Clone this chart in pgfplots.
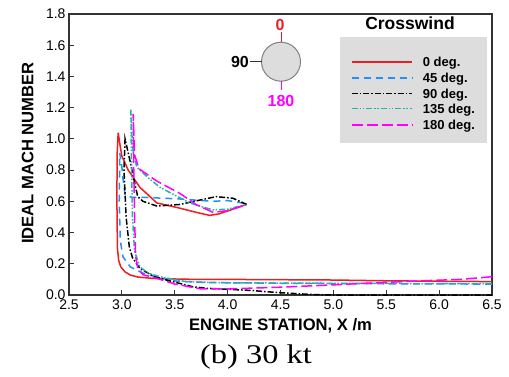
\documentclass[border=0pt]{standalone}
\usepackage{pgfplots}
\pgfplotsset{compat=1.18}
\usepackage{fontspec}
\setmainfont{Liberation Sans}
\newfontfamily\timesfont[FakeStretch=1.2]{Liberation Serif}
\definecolor{cred}{RGB}{235,30,35}
\definecolor{cblue}{RGB}{30,144,255}
\definecolor{ccyan}{RGB}{35,180,170}
\definecolor{cmag}{RGB}{255,0,255}
\definecolor{boxgray}{RGB}{221,221,221}
\tikzset{
  s0/.style={cred, line width=1.5pt},
  s45/.style={cblue, line width=1.5pt, dash pattern=on 7pt off 5pt},
  s90/.style={black, line width=1.5pt, dash pattern=on 6pt off 2pt on 1.5pt off 2pt},
  s135/.style={ccyan, line width=1.5pt, dash pattern=on 6pt off 2pt on 1.5pt off 1.5pt on 1.5pt off 2pt},
  s180/.style={cmag, line width=1.5pt, dash pattern=on 11pt off 4pt},
  lt/.style={anchor=base west, inner sep=0pt, font=\fontsize{13}{13}\bfseries\selectfont},
}
\begin{document}
\begin{tikzpicture}
\useasboundingbox (-69pt,-81pt) rectangle (440pt,295pt);
\begin{axis}[
  scale only axis, width=423pt, height=281pt,
  xmin=2.5, xmax=6.5, ymin=0, ymax=1.8,
  xtick={2.5,3,...,6.5}, ytick={0,0.2,...,1.8},
  tick pos=left, tick align=inside, major tick length=5pt,
  axis line style={line width=1.2pt, black!80},
  every tick/.style={line width=1pt, black!80},
  tick label style={font=\fontsize{14}{14}\selectfont},
  xticklabel style={yshift=-1.5pt},
  /pgf/number format/assume math mode=true,
  /pgf/number format/.cd, fixed, fixed zerofill, precision=1, /pgfplots/.cd,
  xlabel={\bfseries ENGINE STATION, X /m},
  ylabel={\bfseries IDEAL MACH NUMBER},
  every axis x label/.style={at={(axis description cs:0.5,-0.127)}, anchor=base, font=\fontsize{16.6}{16.6}\selectfont},
  every axis y label/.style={at={(axis description cs:-0.0844,0.505)}, rotate=90, anchor=base, font=\fontsize{16.6}{16.6}\selectfont},
]
\fill[boxgray] (axis description cs:0.641,0.541) rectangle (axis description cs:0.988,0.918);
% 0 deg
\addplot[s0] coordinates {
(6.5,0.086) (6.0,0.088) (5.5,0.091) (5.0,0.096) (4.0,0.1) (3.6,0.101) (3.3,0.106) (3.15,0.115) (3.08,0.128) (3.03,0.148) (2.99,0.18) (2.97,0.22) (2.958,0.3) (2.953,0.6) (2.955,0.9) (2.965,1.04)
(2.985,0.95) (3.0,0.89) (3.06,0.80) (3.17,0.69) (3.33,0.59) (3.55,0.556) (3.7,0.53) (3.83,0.51) (3.92,0.52) (4.05,0.55) (4.18,0.58)};
% 45 deg
\addplot[s45] coordinates {
(6.5,0.070) (5.5,0.072) (4.5,0.075) (3.8,0.08) (3.5,0.09) (3.33,0.115) (3.2,0.14) (3.08,0.18) (3.01,0.245) (2.985,0.35) (2.975,0.6) (2.98,0.91)
(3.0,0.82) (3.01,0.75) (3.03,0.64) (3.1,0.625) (3.23,0.625) (3.55,0.615) (3.86,0.60) (4.0,0.605) (4.18,0.585)};
% 90 deg
\addplot[s90] coordinates {
(6.5,0.0) (5.0,0.0) (4.8,0.003) (4.49,0.015) (4.2,0.03) (3.8,0.043) (3.67,0.053) (3.42,0.096) (3.3,0.12) (3.17,0.17) (3.1,0.24) (3.07,0.31) (3.04,0.5) (3.02,0.8) (3.03,1.0)
(3.08,0.85) (3.12,0.72) (3.15,0.63) (3.2,0.6) (3.33,0.57) (3.55,0.58) (3.75,0.61) (3.89,0.63) (4.05,0.62) (4.18,0.58)};
% 135 deg
\addplot[s135] coordinates {
(6.5,0.072) (5.0,0.075) (4.0,0.078) (3.61,0.085) (3.36,0.117) (3.25,0.14) (3.17,0.18) (3.12,0.28) (3.1,0.5) (3.09,0.9) (3.085,1.19)
(3.1,0.95) (3.14,0.82) (3.25,0.75) (3.36,0.69) (3.5,0.64) (3.64,0.59) (3.86,0.545) (4.0,0.55) (4.18,0.58)};
% 180 deg
\addplot[s180] coordinates {
(6.5,0.117) (6.2,0.1) (5.8,0.09) (5.3,0.075) (5.0,0.065) (4.5,0.05) (4.05,0.04) (3.74,0.04) (3.5,0.07) (3.33,0.107) (3.2,0.13) (3.15,0.17) (3.13,0.25) (3.12,0.5) (3.11,0.9) (3.107,1.16)
(3.12,0.9) (3.16,0.81) (3.33,0.73) (3.55,0.65) (3.7,0.58) (3.86,0.53) (4.0,0.54) (4.18,0.58)};
\end{axis}
% legend
\draw[cred, line width=1.6pt] (282.7pt,233.3pt) -- (343.3pt,233.3pt);
\draw[cblue, line width=1.6pt, dash pattern=on 7pt off 5pt] (282.7pt,217.3pt) -- (343.3pt,217.3pt);
\draw[s90] (282.7pt,201.7pt) -- (343.3pt,201.7pt);
\draw[s135] (282.7pt,186.7pt) -- (343.3pt,186.7pt);
\draw[s180] (282.7pt,170pt) -- (343.3pt,170pt);
\node[lt] at (353.7pt,228.6pt) {0 deg.};
\node[lt] at (353.7pt,212.6pt) {45 deg.};
\node[lt] at (353.7pt,197pt) {90 deg.};
\node[lt] at (353.7pt,182pt) {135 deg.};
\node[lt] at (353.7pt,165.3pt) {180 deg.};
% crosswind icon
\fill[boxgray] (212pt,233.3pt) circle (19.5pt);
\draw[gray, line width=1pt] (212pt,233.3pt) circle (19.5pt);
\draw[cred, line width=1pt] (212pt,252.8pt) -- (212pt,263pt);
\draw[black!80, line width=1pt] (192.5pt,233.3pt) -- (181pt,233.3pt);
\draw[cmag, line width=1pt] (212pt,213.8pt) -- (212pt,205pt);
\node[anchor=base, text=cred, font=\fontsize{16}{16}\bfseries\selectfont, inner sep=0pt] at (211pt,265pt) {0};
\node[anchor=east, font=\fontsize{16}{16}\bfseries\selectfont, inner sep=0pt] at (180pt,233.3pt) {90};
\node[anchor=base, text=cmag, font=\fontsize{16}{16}\bfseries\selectfont, inner sep=0pt] at (212pt,189pt) {180};
\node[anchor=base, font=\fontsize{17.5}{17.5}\bfseries\selectfont, inner sep=0pt] at (341pt,265.7pt) {Crosswind};
\node[anchor=base, font=\fontsize{27}{27}\timesfont\selectfont, inner sep=0pt] at (187pt,-68pt) {(b) 30 kt};
\end{tikzpicture}
\end{document}
